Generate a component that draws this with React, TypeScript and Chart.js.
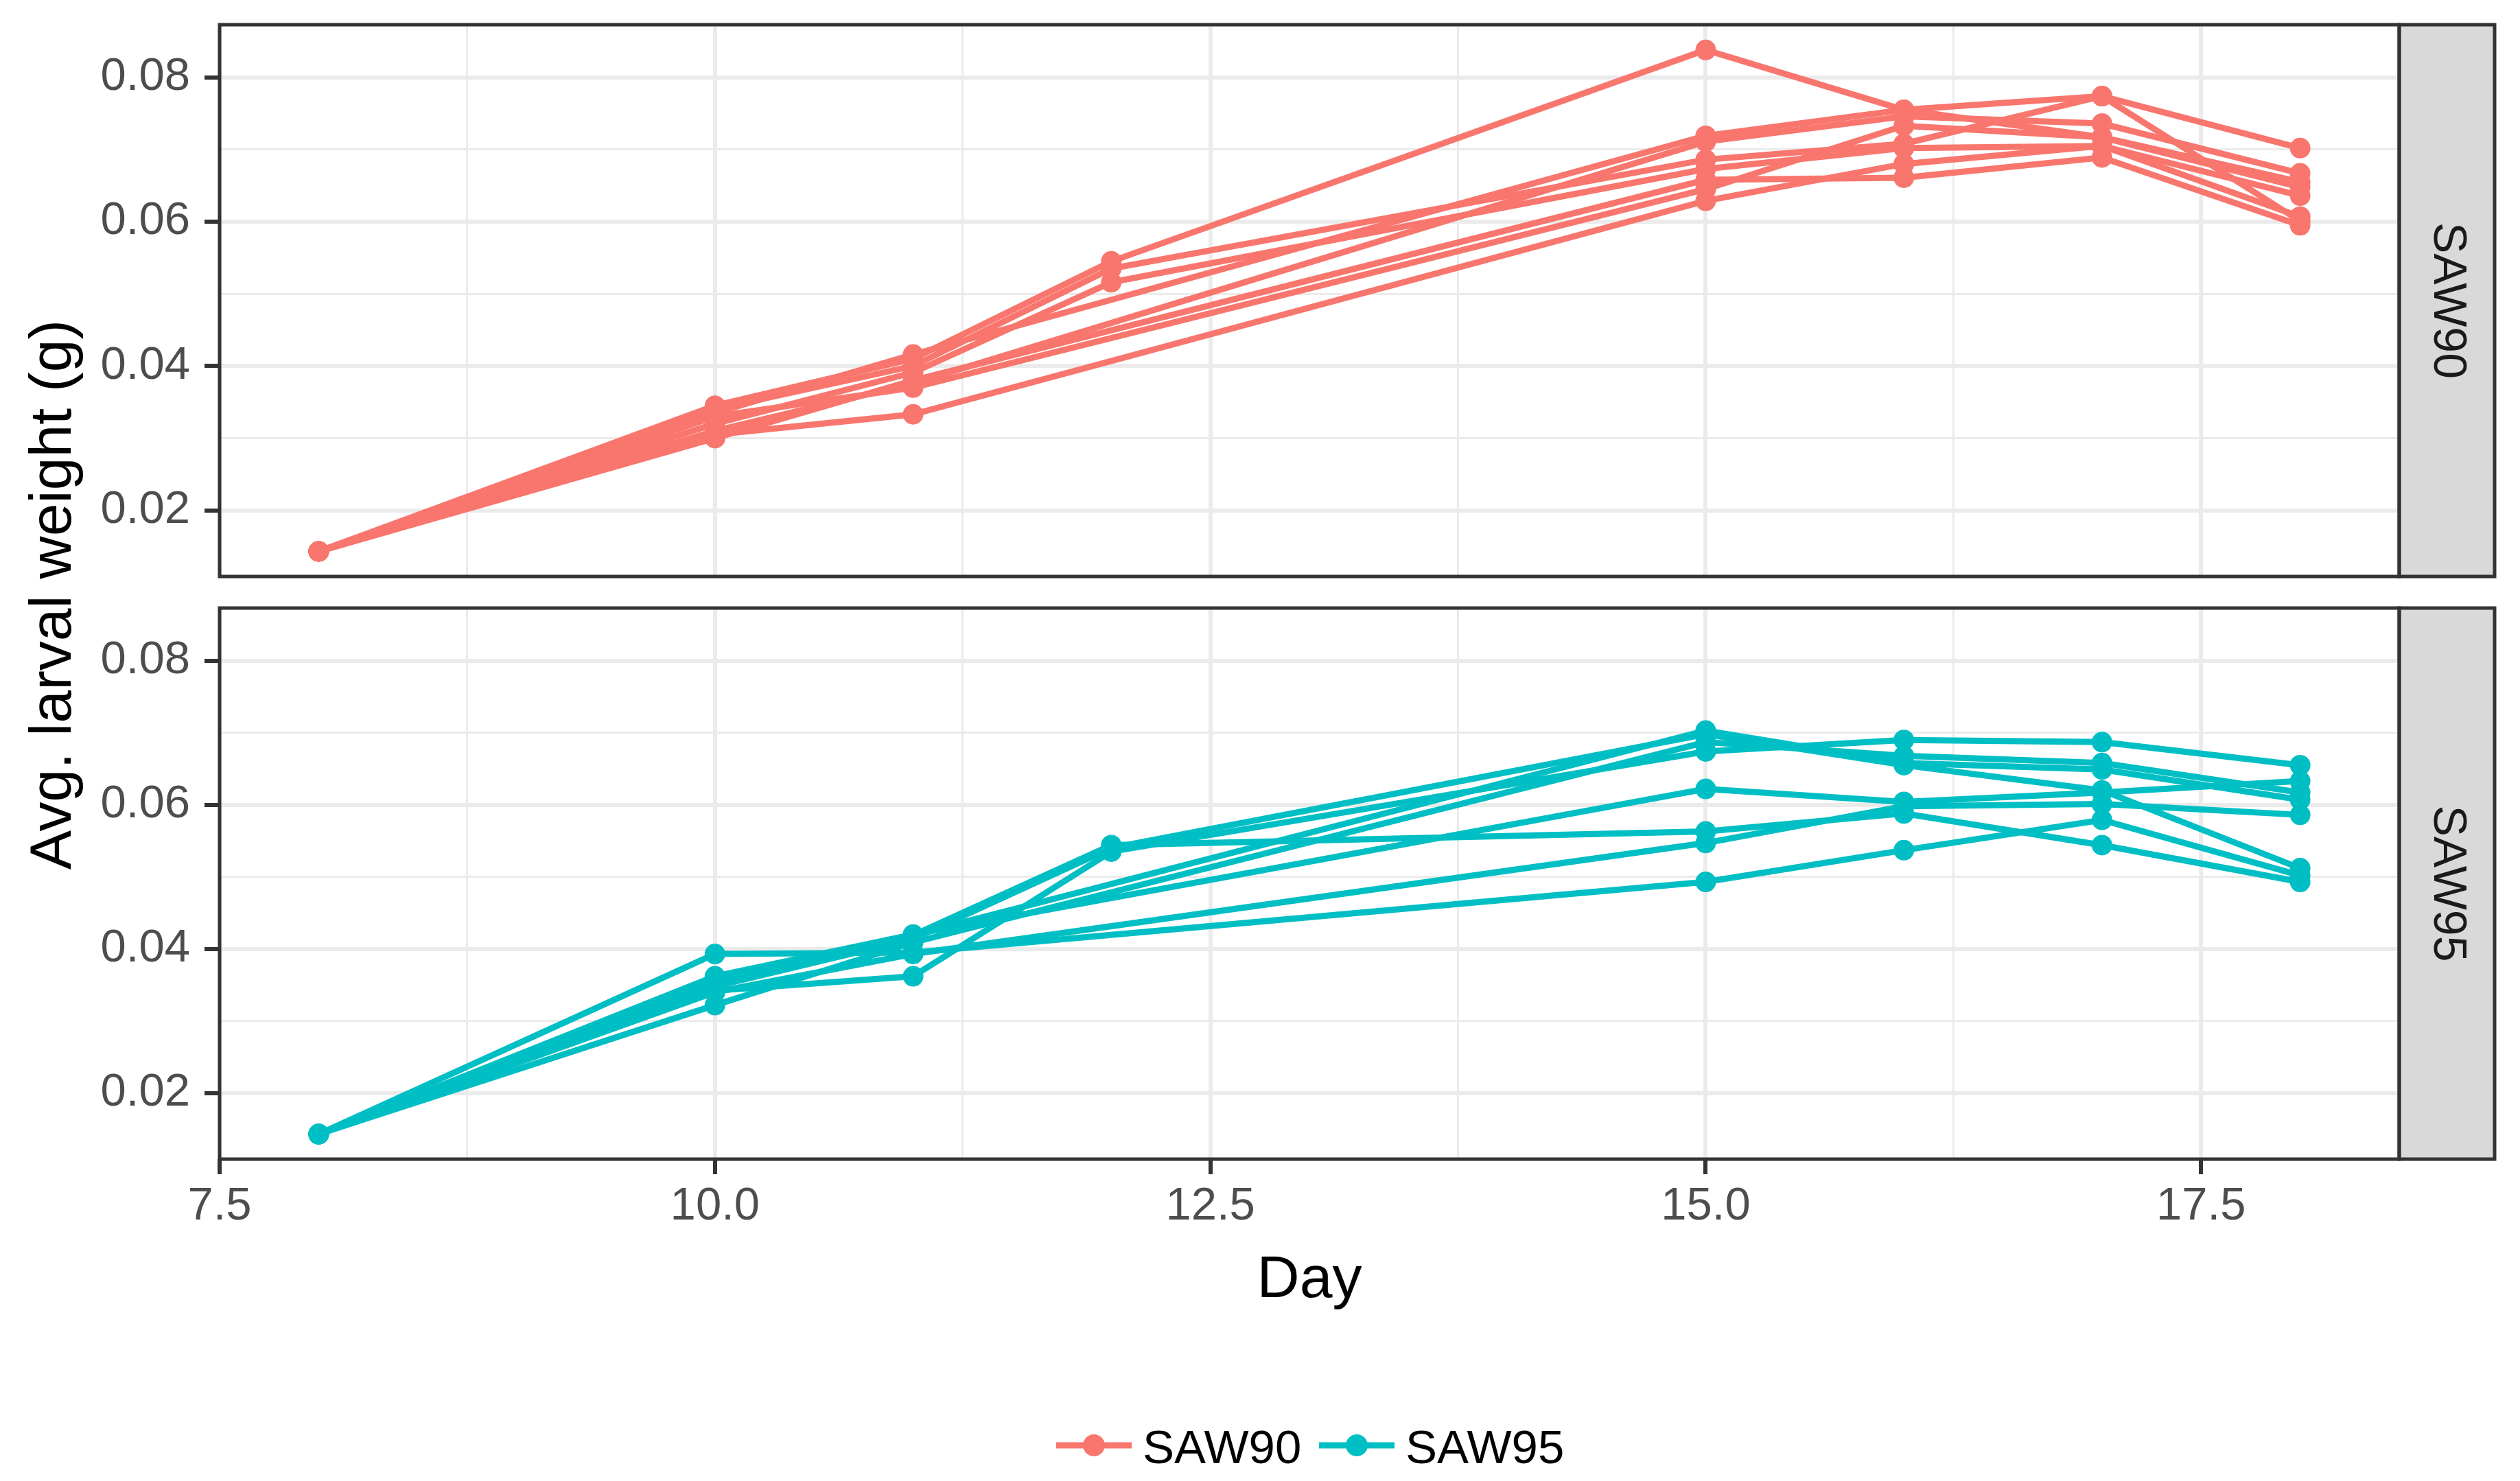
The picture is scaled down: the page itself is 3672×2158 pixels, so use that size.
import { useEffect, useRef } from "react";
import { Chart, registerables } from "chart.js";

Chart.register(...registerables);

// ---------------- data ----------------
const DAYS = [8, 10, 11, 12, 15, 16, 17, 18];

const SAW90_R1 = [0.0143, 0.0345, 0.041, 0.0545, 0.0838, 0.0755, 0.0717, 0.0655];
const SAW90_R2 = [0.0143, 0.034, 0.04, 0.0535, 0.0686, 0.0708, 0.0774, 0.0702];
const SAW90_R3 = [0.0143, 0.032, 0.0391, 0.0516, 0.0673, 0.0702, 0.0705, 0.0636];
const SAW90_R4 = [0.0143, 0.0335, 0.0416, null, 0.0719, 0.0755, 0.0774, 0.0601];
const SAW90_R5 = [0.0143, 0.031, 0.0376, null, 0.0711, 0.0746, 0.0736, 0.0667];
const SAW90_R6 = [0.0143, 0.033, 0.037, null, 0.0645, 0.0733, 0.0717, 0.0648];
const SAW90_R7 = [0.0143, 0.0305, 0.0333, null, 0.0629, 0.068, 0.0705, 0.0607];
const SAW90_R8 = [0.0143, 0.03, 0.038, null, 0.0658, 0.0661, 0.0689, 0.0595];

const SAW95_R1 = [0.0143, 0.0355, 0.0419, 0.0544, 0.0563, 0.0588, 0.0544, 0.0493];
const SAW95_R2 = [0.0143, 0.0342, 0.0362, 0.0535, 0.0674, 0.069, 0.0687, 0.0655];
const SAW95_R3 = [0.0143, 0.0353, 0.0419, null, 0.0703, 0.0658, 0.0649, 0.0607];
const SAW95_R4 = [0.0143, 0.0322, 0.0409, null, 0.0687, 0.0668, 0.0658, 0.0617];
const SAW95_R5 = [0.0143, 0.0362, 0.042, null, 0.0622, 0.0604, 0.0617, 0.0633];
const SAW95_R6 = [0.0143, 0.034, 0.0393, null, 0.0547, 0.0598, 0.0601, 0.0586];
const SAW95_R7 = [0.0143, 0.0393, 0.0395, null, 0.0493, 0.0537, 0.0579, 0.0502];
const SAW95_R8 = [0.0143, 0.0348, 0.0414, 0.054, 0.0698, 0.0655, 0.062, 0.0512];

const SAW90_REPS = [SAW90_R1, SAW90_R2, SAW90_R3, SAW90_R4, SAW90_R5, SAW90_R6, SAW90_R7, SAW90_R8];
const SAW95_REPS = [SAW95_R1, SAW95_R2, SAW95_R3, SAW95_R4, SAW95_R5, SAW95_R6, SAW95_R7, SAW95_R8];

const GROUPS = ["SAW90", "SAW95"];
const GROUP_COLORS = ["#F8766D", "#00BFC4"];

const X_MAJOR = [7.5, 10, 12.5, 15, 17.5];
const X_MINOR = [8.75, 11.25, 13.75, 16.25];
const Y_MAJOR = [0.02, 0.04, 0.06, 0.08];
const Y_MINOR = [0.03, 0.05, 0.07];
const X_MIN = 7.5;
const X_MAX = 18.5;
const Y_MIN = 0.01083;
const Y_MAX = 0.0873;

const X_TITLE = "Day";
const Y_TITLE = "Avg. larval weight (g)";

// ---------------- layout ----------------
const W = 3672;
const H = 2158;
const FONT = '"Liberation Sans", Arial, Helvetica, sans-serif';
const PANEL_LEFT = 320;
const PANEL_RIGHT = 3496;
const TOP1 = 36;
const BOT1 = 840;
const TOP2 = 886;
const BOT2 = 1689;
const STRIP_W = 139;
const LINE_W = 9;
const POINT_R = 15;
// top chart canvas is shifted up so Chart.js' label padding never squeezes the panel
const TOP_CANVAS_OFFSET = 100;
const TOP_CANVAS_H = BOT1 + 100 + TOP_CANVAS_OFFSET;

const near = (v: number, list: number[]) => list.some((m) => Math.abs(m - v) < 1e-9);
const X_TICKS = [...X_MAJOR, ...X_MINOR].sort((a, b) => a - b);
const Y_TICKS = [...Y_MAJOR, ...Y_MINOR].sort((a, b) => a - b);

function makeDatasets(reps: (number | null)[][], color: string) {
  return reps.map((rep, k) => ({
    label: `rep${k + 1}`,
    data: DAYS.map((d, i) => ({ x: d, y: rep[i] })).filter((p) => p.y !== null),
    borderColor: color,
    backgroundColor: color,
    borderWidth: LINE_W,
    pointRadius: POINT_R,
    pointBorderWidth: 0,
    pointBackgroundColor: color,
    tension: 0,
    fill: false,
  }));
}

function facetPlugin(label: string, isBottom: boolean) {
  return {
    id: "facet" + label,
    afterDraw(chart: any) {
      const { ctx, chartArea: a } = chart;
      ctx.save();
      // strip
      ctx.fillStyle = "#D9D9D9";
      ctx.fillRect(a.right, a.top, STRIP_W, a.bottom - a.top);
      ctx.lineWidth = 5;
      ctx.strokeStyle = "#333333";
      ctx.strokeRect(a.left, a.top, a.right - a.left, a.bottom - a.top);
      ctx.strokeRect(a.right, a.top, STRIP_W, a.bottom - a.top);
      ctx.save();
      ctx.translate(a.right + STRIP_W / 2, (a.top + a.bottom) / 2);
      ctx.rotate(Math.PI / 2);
      ctx.fillStyle = "#1A1A1A";
      ctx.font = `68px ${FONT}`;
      ctx.textAlign = "center";
      ctx.textBaseline = "middle";
      ctx.fillText(label, 0, 0);
      ctx.restore();

      if (isBottom) {
        // y title (spanning both panels)
        ctx.save();
        ctx.translate(103, (TOP1 + BOT2) / 2 + 4);
        ctx.rotate(-Math.PI / 2);
        ctx.fillStyle = "#000000";
        ctx.font = `86px ${FONT}`;
        ctx.textAlign = "center";
        ctx.textBaseline = "alphabetic";
        ctx.fillText(Y_TITLE, 0, 0);
        ctx.restore();

        // x title
        ctx.fillStyle = "#000000";
        ctx.font = `86px ${FONT}`;
        ctx.textAlign = "center";
        ctx.textBaseline = "alphabetic";
        ctx.fillText(X_TITLE, (a.left + a.right) / 2, 1890);

        // legend
        const items = [
          { x0: 1539, text: GROUPS[0], color: GROUP_COLORS[0] },
          { x0: 1922, text: GROUPS[1], color: GROUP_COLORS[1] },
        ];
        const ly = 2106;
        items.forEach((it) => {
          ctx.strokeStyle = it.color;
          ctx.lineWidth = LINE_W;
          ctx.beginPath();
          ctx.moveTo(it.x0, ly);
          ctx.lineTo(it.x0 + 110, ly);
          ctx.stroke();
          ctx.fillStyle = it.color;
          ctx.beginPath();
          ctx.arc(it.x0 + 55, ly, 16, 0, Math.PI * 2);
          ctx.fill();
          ctx.fillStyle = "#000000";
          ctx.font = `69px ${FONT}`;
          ctx.textAlign = "left";
          ctx.textBaseline = "alphabetic";
          ctx.fillText(it.text, it.x0 + 126, 2132);
        });
      }
      ctx.restore();
    },
  };
}

function makeConfig(which: "top" | "bottom"): any {
  const isBottom = which === "bottom";
  const reps = isBottom ? SAW95_REPS : SAW90_REPS;
  const color = isBottom ? GROUP_COLORS[1] : GROUP_COLORS[0];
  const label = isBottom ? GROUPS[1] : GROUPS[0];

  const padTop = isBottom ? TOP2 : TOP1 + TOP_CANVAS_OFFSET;
  const padBottom = isBottom ? 0 : TOP_CANVAS_H - (BOT1 + TOP_CANVAS_OFFSET);

  return {
    type: "line",
    data: { datasets: makeDatasets(reps, color) },
    options: {
      animation: false,
      responsive: false,
      devicePixelRatio: 1,
      events: [],
      layout: {
        padding: {
          left: 0,
          top: padTop,
          right: W - PANEL_RIGHT,
          bottom: padBottom,
        },
      },
      plugins: {
        legend: { display: false },
        tooltip: { enabled: false },
        title: { display: false },
      },
      scales: {
        x: {
          type: "linear",
          min: X_MIN,
          max: X_MAX,
          afterBuildTicks: (s: any) => {
            s.ticks = X_TICKS.map((v) => ({ value: v }));
          },
          afterFit: (s: any) => {
            s.height = isBottom ? H - BOT2 : 0;
          },
          border: { display: false },
          grid: {
            color: "#EBEBEB",
            lineWidth: (c: any) => (c.tick && near(c.tick.value, X_MAJOR) ? 6 : 3),
            drawTicks: isBottom,
            tickLength: 22,
            tickWidth: 6,
            tickColor: (c: any) =>
              c.tick && near(c.tick.value, X_MAJOR) ? "#333333" : "rgba(0,0,0,0)",
          },
          ticks: {
            display: isBottom,
            autoSkip: false,
            maxRotation: 0,
            minRotation: 0,
            padding: 14,
            color: "#4D4D4D",
            font: { family: FONT, size: 67, lineHeight: 1.0 },
            callback: (v: number) => (near(v, X_MAJOR) ? v.toFixed(1) : ""),
          },
        },
        y: {
          type: "linear",
          min: Y_MIN,
          max: Y_MAX,
          afterBuildTicks: (s: any) => {
            s.ticks = Y_TICKS.map((v) => ({ value: v }));
          },
          afterFit: (s: any) => {
            s.width = PANEL_LEFT;
          },
          border: { display: false },
          grid: {
            color: "#EBEBEB",
            lineWidth: (c: any) => (c.tick && near(c.tick.value, Y_MAJOR) ? 6 : 3),
            drawTicks: true,
            tickLength: 22,
            tickWidth: 6,
            tickColor: (c: any) =>
              c.tick && near(c.tick.value, Y_MAJOR) ? "#333333" : "rgba(0,0,0,0)",
          },
          ticks: {
            autoSkip: false,
            padding: 21,
            color: "#4D4D4D",
            font: { family: FONT, size: 67, lineHeight: 1.0 },
            callback: (v: number) => (near(v, Y_MAJOR) ? v.toFixed(2) : ""),
          },
        },
      },
    },
    plugins: [facetPlugin(label, isBottom)],
  };
}

export default function App() {
  const topRef = useRef<HTMLCanvasElement>(null);
  const botRef = useRef<HTMLCanvasElement>(null);

  useEffect(() => {
    const c2 = new Chart(botRef.current as HTMLCanvasElement, makeConfig("bottom"));
    const c1 = new Chart(topRef.current as HTMLCanvasElement, makeConfig("top"));
    return () => {
      c1.destroy();
      c2.destroy();
    };
  }, []);

  return (
    <div
      style={{
        position: "fixed",
        left: 0,
        top: 0,
        width: W,
        height: H,
        background: "#ffffff",
        overflow: "hidden",
      }}
    >
      <canvas
        ref={botRef}
        width={W}
        height={H}
        style={{ position: "absolute", left: 0, top: 0, width: W, height: H }}
      />
      <canvas
        ref={topRef}
        width={W}
        height={TOP_CANVAS_H}
        style={{
          position: "absolute",
          left: 0,
          top: -TOP_CANVAS_OFFSET,
          width: W,
          height: TOP_CANVAS_H,
        }}
      />
    </div>
  );
}
